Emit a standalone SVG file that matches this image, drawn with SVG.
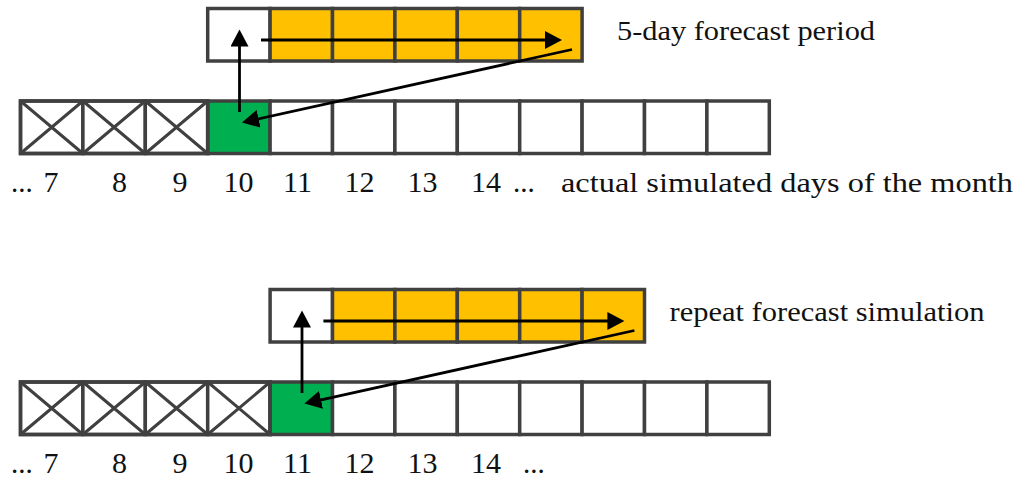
<svg xmlns="http://www.w3.org/2000/svg" width="1024" height="481" viewBox="0 0 1024 481">
<style>
.cell{fill:#ffffff;stroke:#404040;stroke-width:3.5}
.fc{fill:#FFC000}
.gr{fill:#00B050}
.x{stroke:#404040;stroke-width:3;fill:none}
.arrow{stroke:#000;stroke-width:2.8;fill:none;marker-end:url(#ah)}
.num{font-family:"Liberation Serif",serif;font-size:30px;fill:#111;text-anchor:middle}
.dots{font-family:"Liberation Serif",serif;font-size:29px;fill:#111}
.lbl{font-family:"Liberation Serif",serif;font-size:28px;fill:#111}
</style>
<defs>
<marker id="ah" markerUnits="userSpaceOnUse" markerWidth="18" markerHeight="18" refX="9" refY="9" orient="auto" viewBox="0 0 18 18">
<path d="M0,0 L17,9 L0,18 Z" fill="#000"/>
</marker>
</defs>
<rect width="1024" height="481" fill="#fff"/>

<!-- top scenario: forecast row -->
<g id="top-forecast-row">
<rect class="cell" x="207.7" y="8.5" width="62.4" height="52.5"/>
<rect class="cell fc" x="270.1" y="8.5" width="62.4" height="52.5"/>
<rect class="cell fc" x="332.5" y="8.5" width="62.4" height="52.5"/>
<rect class="cell fc" x="394.9" y="8.5" width="62.4" height="52.5"/>
<rect class="cell fc" x="457.3" y="8.5" width="62.4" height="52.5"/>
<rect class="cell fc" x="519.7" y="8.5" width="62.4" height="52.5"/>
</g>

<!-- top scenario: main row -->
<g id="top-main-row">
<rect class="cell" x="20.5" y="101" width="62.4" height="52.5"/>
<rect class="cell" x="82.9" y="101" width="62.4" height="52.5"/>
<rect class="cell" x="145.3" y="101" width="62.4" height="52.5"/>
<rect class="cell gr" x="207.7" y="101" width="62.4" height="52.5"/>
<rect class="cell" x="270.1" y="101" width="62.4" height="52.5"/>
<rect class="cell" x="332.5" y="101" width="62.4" height="52.5"/>
<rect class="cell" x="394.9" y="101" width="62.4" height="52.5"/>
<rect class="cell" x="457.3" y="101" width="62.4" height="52.5"/>
<rect class="cell" x="519.7" y="101" width="62.4" height="52.5"/>
<rect class="cell" x="582.1" y="101" width="62.4" height="52.5"/>
<rect class="cell" x="644.5" y="101" width="62.4" height="52.5"/>
<rect class="cell" x="706.9" y="101" width="62.4" height="52.5"/>
<path class="x" d="M20.5,101 L82.9,153.5 M82.9,101 L20.5,153.5 M82.9,101 L145.3,153.5 M145.3,101 L82.9,153.5 M145.3,101 L207.7,153.5 M207.7,101 L145.3,153.5"/>
<rect x="20.5" y="101" width="187.2" height="52.5" fill="none" stroke="#404040" stroke-width="3.5"/>
</g>

<!-- bottom scenario: forecast row -->
<g id="bottom-forecast-row">
<rect class="cell" x="270.1" y="289.5" width="62.4" height="52.5"/>
<rect class="cell fc" x="332.5" y="289.5" width="62.4" height="52.5"/>
<rect class="cell fc" x="394.9" y="289.5" width="62.4" height="52.5"/>
<rect class="cell fc" x="457.3" y="289.5" width="62.4" height="52.5"/>
<rect class="cell fc" x="519.7" y="289.5" width="62.4" height="52.5"/>
<rect class="cell fc" x="582.1" y="289.5" width="62.4" height="52.5"/>
</g>

<!-- bottom scenario: main row -->
<g id="bottom-main-row">
<rect class="cell" x="20.5" y="382" width="62.4" height="52.5"/>
<rect class="cell" x="82.9" y="382" width="62.4" height="52.5"/>
<rect class="cell" x="145.3" y="382" width="62.4" height="52.5"/>
<rect class="cell" x="207.7" y="382" width="62.4" height="52.5"/>
<rect class="cell gr" x="270.1" y="382" width="62.4" height="52.5"/>
<rect class="cell" x="332.5" y="382" width="62.4" height="52.5"/>
<rect class="cell" x="394.9" y="382" width="62.4" height="52.5"/>
<rect class="cell" x="457.3" y="382" width="62.4" height="52.5"/>
<rect class="cell" x="519.7" y="382" width="62.4" height="52.5"/>
<rect class="cell" x="582.1" y="382" width="62.4" height="52.5"/>
<rect class="cell" x="644.5" y="382" width="62.4" height="52.5"/>
<rect class="cell" x="706.9" y="382" width="62.4" height="52.5"/>
<path class="x" d="M20.5,382 L82.9,434.5 M82.9,382 L20.5,434.5 M82.9,382 L145.3,434.5 M145.3,382 L82.9,434.5 M145.3,382 L207.7,434.5 M207.7,382 L145.3,434.5 M207.7,382 L270.1,434.5 M270.1,382 L207.7,434.5"/>
<rect x="20.5" y="382" width="249.6" height="52.5" fill="none" stroke="#404040" stroke-width="3.5"/>
</g>

<!-- connectors -->
<g id="connectors">
<line class="arrow" x1="239.5" y1="112" x2="239.5" y2="37.5"/>
<line class="arrow" x1="261" y1="40" x2="554" y2="40"/>
<line class="arrow" x1="572" y1="49.5" x2="249.8" y2="120.8"/>
<line class="arrow" x1="302" y1="393" x2="302" y2="318.5"/>
<line class="arrow" x1="323.4" y1="321" x2="616.4" y2="321"/>
<line class="arrow" x1="634.4" y1="330.5" x2="312.2" y2="401.8"/>
</g>

<!-- labels -->
<g id="top-labels">
<text class="dots" x="11" y="192">...</text>
<text class="num" x="51" y="192">7</text>
<text class="num" x="119.5" y="192">8</text>
<text class="num" x="180" y="192">9</text>
<text class="num" x="238.5" y="192">10</text>
<text class="num" x="297.5" y="192">11</text>
<text class="num" x="359.5" y="192">12</text>
<text class="num" x="422.5" y="192">13</text>
<text class="num" x="486" y="192">14</text>
<text class="dots" x="513" y="192">...</text>
<text class="lbl" x="561" y="192" textLength="452" lengthAdjust="spacingAndGlyphs">actual simulated days of the month</text>
<text class="lbl" x="617" y="40" textLength="258" lengthAdjust="spacingAndGlyphs">5-day forecast period</text>
</g>
<g id="bottom-labels">
<text class="dots" x="11" y="472.5">...</text>
<text class="num" x="51" y="472.5">7</text>
<text class="num" x="119.5" y="472.5">8</text>
<text class="num" x="180" y="472.5">9</text>
<text class="num" x="238.5" y="472.5">10</text>
<text class="num" x="297.5" y="472.5">11</text>
<text class="num" x="359.5" y="472.5">12</text>
<text class="num" x="422.5" y="472.5">13</text>
<text class="num" x="486" y="472.5">14</text>
<text class="dots" x="523" y="472.5">...</text>
<text class="lbl" x="669.5" y="321" textLength="315" lengthAdjust="spacingAndGlyphs">repeat forecast simulation</text>
</g>
</svg>
